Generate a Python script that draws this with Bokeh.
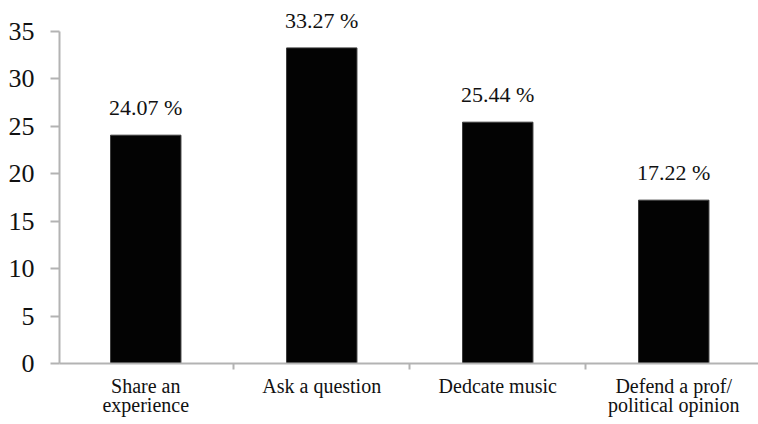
from bokeh.plotting import figure
from bokeh.models import Range1d, FixedTicker, ColumnDataSource, LabelSet
from bokeh.embed import file_html
from bokeh.resources import INLINE

categories = ["Share an\nexperience", "Ask a question", "Dedcate music", "Defend a prof/\npolitical opinion"]
values = [24.07, 33.27, 25.44, 17.22]
y_ticks = [0, 5, 10, 15, 20, 25, 30, 35]

centers = [i + 0.5 for i in range(len(categories))]
labels = [f"{v:.2f} %" for v in values]

W, H = 758, 424
left, bottom = 59, 61
axis_top_px = 31
y_max = 35
frame_h = H - bottom
px_per_unit = (frame_h - axis_top_px) / y_max
cat_px = 176.0
frame_w = W - left
x_start = 0.01
p = figure(width=W, height=H, output_backend="svg", toolbar_location=None,
           x_range=Range1d(x_start, x_start + frame_w / cat_px),
           y_range=Range1d(0, frame_h / px_per_unit),
           min_border_left=left, min_border_right=0, min_border_top=0, min_border_bottom=bottom)
p.outline_line_color = None
p.xgrid.visible = False
p.ygrid.visible = False
p.background_fill_color = "white"
p.border_fill_color = "white"

src = ColumnDataSource(dict(x=centers, top=values, lab=labels))
p.vbar(x="x", top="top", width=0.4, bottom=0, source=src,
       fill_color="#030303", line_color="#3a3a3a", line_width=1)

p.add_layout(LabelSet(x="x", y="top", text="lab", source=src, text_align="center",
                      text_baseline="bottom", y_offset=15, text_font="Liberation Serif",
                      text_font_size="22px", text_color="#111111"))

axis_color = "#b3b3b3"
ya = p.yaxis[0]
ya.bounds = (0, y_max)
ya.ticker = FixedTicker(ticks=y_ticks, minor_ticks=[])
ya.axis_line_color = axis_color
ya.axis_line_width = 2
ya.major_tick_line_color = axis_color
ya.major_tick_line_width = 2
ya.major_tick_out = 9
ya.major_tick_in = 0
ya.minor_tick_line_color = None
ya.major_label_standoff = 16
ya.major_label_text_font = "Liberation Serif"
ya.major_label_text_font_size = "26px"
ya.major_label_text_color = "#111111"

xa = p.xaxis[0]
xa.ticker = FixedTicker(ticks=centers, minor_ticks=list(range(len(categories) + 1)))
xa.major_label_overrides = {c: lab for c, lab in zip(centers, categories)}
xa.axis_line_color = axis_color
xa.axis_line_width = 2
xa.major_tick_line_color = None
xa.major_tick_out = 0
xa.major_tick_in = 0
xa.minor_tick_line_color = axis_color
xa.minor_tick_line_width = 2
xa.minor_tick_out = 6
xa.minor_tick_in = 0
xa.major_label_standoff = 5
xa.major_label_text_font = "Liberation Serif"
xa.major_label_text_font_size = "20px"
xa.major_label_text_color = "#111111"
xa.major_label_text_line_height = 0.9

open("out.html", "w").write(file_html(p, INLINE))
